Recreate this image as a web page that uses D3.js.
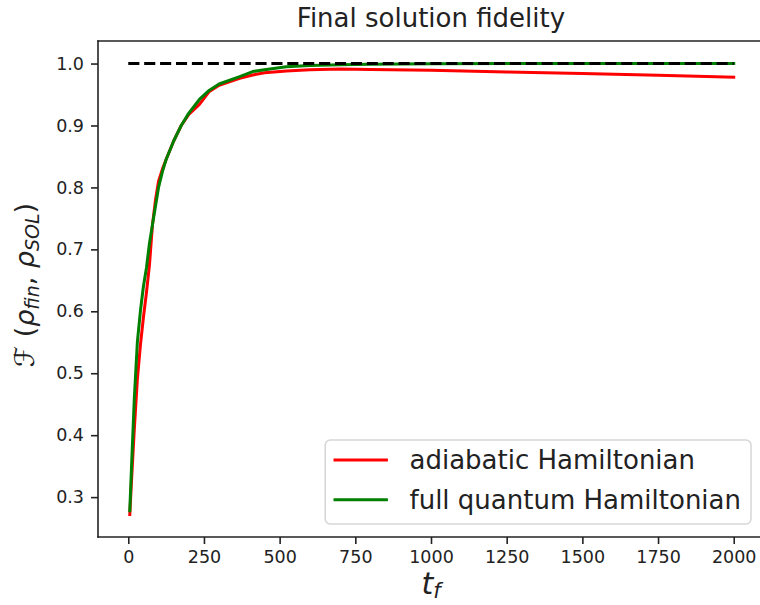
<!DOCTYPE html>
<html>
<head>
<meta charset="utf-8">
<script src="https://cdn.jsdelivr.net/npm/d3@7"></script>
<style>
  body { margin: 0; background: #fff; overflow: hidden; }
  svg { font-family: "DejaVu Sans", sans-serif; display: block; }
</style>
</head>
<body>
<div id="wrapper"></div>
<script>
// DATA
const tf = [5, 10, 20, 30, 40, 50, 60, 70, 80, 90, 100, 113, 125, 150, 175, 200, 235, 268, 300, 368, 411, 450, 522, 600, 700, 800, 1000, 1250, 1500, 1750, 2000];
const adiabatic = [0.272, 0.32, 0.41, 0.49, 0.545, 0.59, 0.63, 0.675, 0.74, 0.78, 0.81, 0.83, 0.845, 0.875, 0.90, 0.918, 0.934, 0.955, 0.965, 0.976, 0.9815, 0.985, 0.988, 0.990, 0.991, 0.9905, 0.989, 0.9865, 0.984, 0.981, 0.978];
const fullQuantum = [0.278, 0.34, 0.46, 0.55, 0.60, 0.64, 0.67, 0.71, 0.74, 0.77, 0.80, 0.826, 0.845, 0.875, 0.90, 0.92, 0.942, 0.957, 0.967, 0.979, 0.987, 0.990, 0.995, 0.997, 0.998, 0.999, 0.9995, 1.0, 1.0, 1.0, 1.0];
const refX = [0, 2000];
const refY = [1.0, 1.0];
const xTicks = [0, 250, 500, 750, 1000, 1250, 1500, 1750, 2000];
const yTicks = [0.3, 0.4, 0.5, 0.6, 0.7, 0.8, 0.9, 1.0];
const seriesNames = ["adiabatic Hamiltonian", "full quantum Hamiltonian"];
const seriesColors = ["#ff0000", "#008000"];

//SVG
const W = 760, H = 605;
const margin = { left: 98, top: 41, right: -4, bottom: 68 };

const svg = d3.select("#wrapper")
  .append("svg")
  .attr("width", W)
  .attr("height", H);

// matplotlib-like 5% margins
const allX = tf.concat(refX);
const allY = adiabatic.concat(fullQuantum, refY);
const xExt = d3.extent(allX), yExt = d3.extent(allY);
const xPad = (xExt[1] - xExt[0]) * 0.05, yPad = (yExt[1] - yExt[0]) * 0.05;

const x = d3.scaleLinear()
  .domain([xExt[0] - xPad, xExt[1] + xPad])
  .range([margin.left, W - margin.right]);
const y = d3.scaleLinear()
  .domain([yExt[0] - yPad, yExt[1] + yPad])
  .range([H - margin.bottom, margin.top]);

//AXES
const tickColor = "#222";
const xAxis = svg.append("g")
  .attr("transform", `translate(0,${H - margin.bottom})`)
  .call(d3.axisBottom(x).tickValues(xTicks).tickSize(7).tickPadding(7).tickFormat(d3.format("d")));
const yAxis = svg.append("g")
  .attr("transform", `translate(${margin.left},0)`)
  .call(d3.axisLeft(y).tickValues(yTicks).tickSize(7).tickPadding(7).tickFormat(d3.format(".1f")));

[xAxis, yAxis].forEach(a => {
  a.selectAll("text").attr("font-size", 17.5).attr("fill", tickColor).attr("font-family", "DejaVu Sans");
  a.selectAll(".tick line").attr("stroke", tickColor).attr("stroke-width", 1.6);
  a.select(".domain").remove();
});

// spines (right one falls outside the picture)
const spines = [
  [margin.left, margin.top, W, margin.top],
  [margin.left, H - margin.bottom, W, H - margin.bottom],
  [margin.left, margin.top, margin.left, H - margin.bottom]
];
svg.append("g")
  .selectAll("line")
  .data(spines)
  .join("line")
  .attr("x1", d => d[0]).attr("y1", d => d[1])
  .attr("x2", d => d[2]).attr("y2", d => d[3])
  .attr("stroke", tickColor)
  .attr("stroke-width", 1.6)
  .attr("stroke-linecap", "square");

//LINES
const line = d3.line().x(d => x(d[0])).y(d => y(d[1]));
const plotArea = svg.append("g");

[adiabatic, fullQuantum].forEach((vals, i) => {
  plotArea.append("path")
    .datum(tf.map((t, j) => [t, vals[j]]))
    .attr("d", line)
    .attr("fill", "none")
    .attr("stroke", seriesColors[i])
    .attr("stroke-width", 3)
    .attr("stroke-linejoin", "round")
    .attr("stroke-linecap", "square");
});

plotArea.append("path")
  .datum(refX.map((t, j) => [t, refY[j]]))
  .attr("d", line)
  .attr("fill", "none")
  .attr("stroke", "#000")
  .attr("stroke-width", 3)
  .attr("stroke-dasharray", "11.1,4.8");

//TITLE AND LABELS
const cx = (margin.left + W - margin.right) / 2;
svg.append("text")
  .attr("x", cx)
  .attr("y", 27)
  .attr("text-anchor", "middle")
  .attr("font-size", 26)
  .attr("fill", tickColor)
  .text("Final solution fidelity");

const xl = svg.append("text")
  .attr("x", cx)
  .attr("y", 594)
  .attr("text-anchor", "middle")
  .attr("font-size", 30)
  .attr("font-style", "italic")
  .attr("fill", tickColor);
xl.append("tspan").text("t");
xl.append("tspan").attr("font-size", 21).attr("dy", 4).text("f");

const cy = (margin.top + H - margin.bottom) / 2;
const yl = svg.append("text")
  .attr("transform", `translate(34,${cy - 4}) rotate(-90)`)
  .attr("text-anchor", "middle")
  .attr("font-size", 27)
  .attr("fill", tickColor);
yl.append("tspan").attr("font-style", "italic").text("ℱ");
yl.append("tspan").text(" (");
yl.append("tspan").attr("font-style", "italic").text("ρ");
yl.append("tspan").attr("font-style", "italic").attr("font-size", 19).attr("dy", 5).text("fin");
yl.append("tspan").attr("dy", -5).text(", ");
yl.append("tspan").attr("font-style", "italic").text("ρ");
yl.append("tspan").attr("font-style", "italic").attr("font-size", 19).attr("dy", 5).text("SOL");
yl.append("tspan").attr("dy", -5).text(")");

//LEGEND
const fs = 26;
const legRight = W - margin.right - fs * 0.5;
const legBottom = H - margin.bottom - fs * 0.5;
const legend = svg.append("g");
const box = legend.append("rect")
  .attr("fill", "#fff")
  .attr("fill-opacity", 0.8)
  .attr("stroke", "#d6d6d6")
  .attr("stroke-width", 1.5)
  .attr("rx", 5);

const labels = seriesNames.map((name, i) => legend.append("text")
  .attr("font-size", fs)
  .attr("fill", tickColor)
  .text(name));
const maxW = d3.max(labels, l => l.node().getComputedTextLength());
const boxW = 8.3 + 54.4 + 21.6 + maxW + 10;
const boxH = 84;
const legLeft = legRight - boxW, legTop = legBottom - boxH;
box.attr("x", legLeft).attr("y", legTop).attr("width", boxW).attr("height", boxH);

seriesNames.forEach((name, i) => {
  const rowY = legTop + 20 + i * 39.7;
  legend.append("line")
    .attr("x1", legLeft + 8.3)
    .attr("x2", legLeft + 62.7)
    .attr("y1", rowY)
    .attr("y2", rowY)
    .attr("stroke", seriesColors[i])
    .attr("stroke-width", 3);
  labels[i].attr("x", legLeft + 84.3).attr("y", rowY + fs * 0.36);
});
</script>
</body>
</html>
